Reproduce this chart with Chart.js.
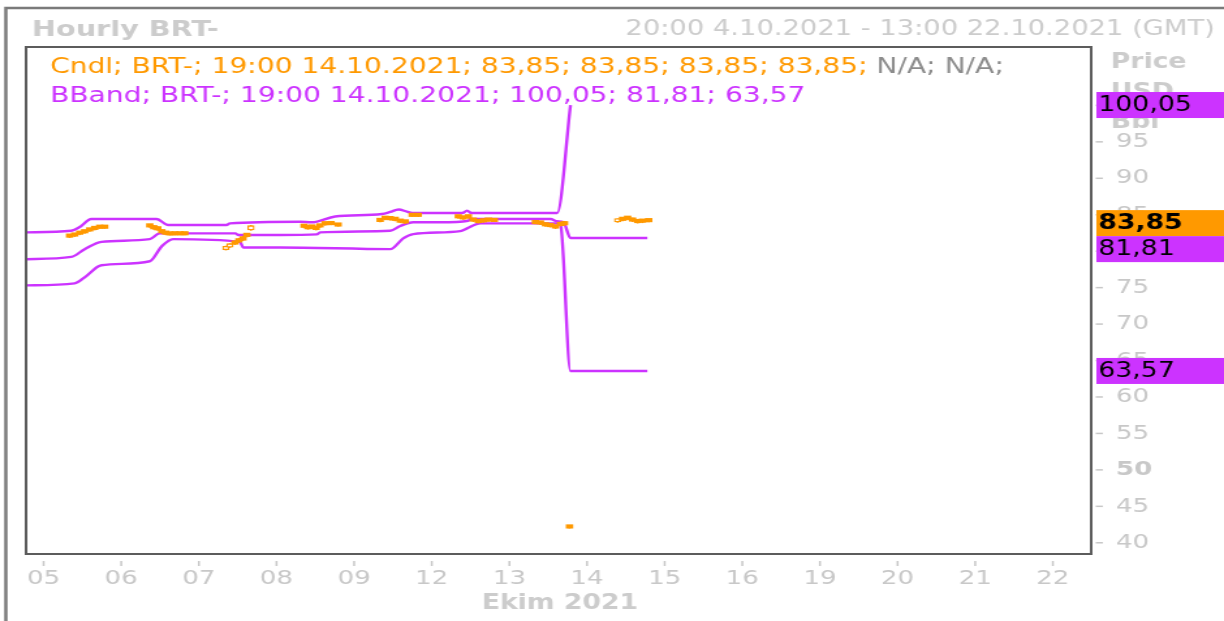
<!DOCTYPE html>
<html><head><meta charset="utf-8">
<script src="https://cdn.jsdelivr.net/npm/chart.js@4.4.1/dist/chart.umd.min.js"></script>
<style>
html,body{margin:0;padding:0;background:#fff;overflow:hidden;width:1224px;height:621px;}
#wrap{position:absolute;left:0;top:0;width:940px;height:621px;transform:scaleX(1.3021277);transform-origin:0 0;}
canvas{display:block;}
</style></head><body>
<div id="wrap"><canvas id="c" width="940" height="621"></canvas></div>
<script>
// ---------- data ----------
const dayLabels = ['05','06','07','08','09','12','13','14','15','16','19','20','21','22'];
const yTickValues = [40,45,50,55,60,65,70,75,80,85,90,95,100];

const upperX = [-0.226,0.357,0.465,0.615,1.454,1.604,2.357,2.4,3.303,3.454,3.755,4.357,4.465,4.572,4.68,4.748,5.394,5.455,5.51,6.615,6.787];
const upperY = [82.58,82.80,83.31,84.41,84.41,83.59,83.59,83.82,84.04,83.96,84.76,85.10,85.38,85.72,85.42,85.24,85.24,85.56,85.24,85.24,100.05];

const middleX = [-0.226,0.357,0.529,0.745,1.368,1.497,2.47,2.51,3.045,3.519,3.561,4.465,4.594,4.761,5.11,5.471,5.497,6.529,6.615,6.697,6.787,7.777];
const middleY = [78.90,79.21,80.28,81.28,81.66,82.44,82.44,82.21,82.21,82.30,82.58,82.80,83.45,83.96,83.96,84.18,84.41,84.41,84.10,83.96,81.81,81.81];

const lowerX = [-0.226,0.4,0.529,0.745,1.368,1.523,1.668,2.529,2.572,3.045,4.465,4.632,4.761,5.368,5.455,5.626,6.615,6.658,6.787,7.777];
const lowerY = [75.31,75.59,76.41,78.07,78.62,80.69,81.66,81.28,80.51,80.51,80.28,81.75,82.34,82.76,83.13,83.82,83.82,83.63,63.57,63.57];

const candleX = [0.335,0.400,0.465,0.529,0.594,0.658,0.723,0.787,
 1.368,1.419,1.471,1.523,1.574,1.626,1.690,1.755,1.819,
 2.348,2.400,2.465,2.516,2.568,2.619,2.671,
 3.355,3.406,3.458,3.510,3.561,3.626,3.703,3.794,
 4.335,4.400,4.465,4.529,4.594,4.658,4.748,4.826,
 5.342,5.406,5.471,5.535,5.600,5.665,5.729,5.806,
 6.335,6.400,6.465,6.529,6.594,6.658,6.710,6.774,
 7.394,7.458,7.523,7.587,7.652,7.716,7.794];
const candleOpen = [82.10,82.40,82.60,82.80,83.10,83.30,83.22,83.22,
 83.65,83.45,83.30,82.90,82.60,82.35,82.32,82.32,82.32,
 80.20,80.55,81.35,81.70,82.00,82.35,82.90,
 83.55,83.45,83.35,83.30,83.60,83.80,83.72,83.52,
 84.30,84.65,84.70,84.55,84.25,84.10,84.85,84.85,
 84.85,84.70,84.90,84.45,84.25,84.35,84.20,84.15,
 83.85,83.90,83.85,83.75,83.55,83.95,84.05,42.10,
 84.00,84.50,84.65,84.50,84.30,84.20,84.12];
const candleHigh = [82.15,82.45,82.65,82.85,83.15,83.35,83.22,83.22,
 83.70,83.50,83.35,82.95,82.65,82.35,82.32,82.32,82.32,
 80.70,81.05,81.40,81.75,82.05,82.40,83.55,
 83.60,83.50,83.40,83.35,83.65,83.85,83.72,83.52,
 84.35,84.70,84.75,84.60,84.30,84.15,84.85,84.85,
 84.90,84.75,84.95,84.50,84.30,84.40,84.20,84.15,
 83.85,83.95,83.90,83.80,83.60,84.00,84.10,42.10,
 84.45,84.55,84.70,84.55,84.35,84.25,84.12];
const candleLow = [81.85,82.00,82.25,82.45,82.70,82.90,83.12,83.12,
 83.25,83.00,82.85,82.45,82.25,82.20,82.22,82.22,82.22,
 80.15,80.50,80.90,81.20,81.45,81.95,82.85,
 83.20,83.00,83.10,82.90,83.25,83.55,83.62,83.42,
 84.00,84.30,84.25,84.15,83.90,83.80,84.75,84.75,
 84.50,84.35,84.50,84.05,83.85,83.95,84.10,84.05,
 83.75,83.65,83.40,83.30,83.10,83.45,83.55,42.00,
 83.95,84.15,84.30,84.05,83.85,83.90,84.02];
const candleClose = [81.90,82.05,82.30,82.50,82.75,82.95,83.12,83.12,
 83.30,83.05,82.90,82.50,82.30,82.20,82.22,82.22,82.22,
 80.65,81.00,80.95,81.25,81.50,82.00,83.50,
 83.25,83.05,83.15,82.95,83.30,83.60,83.62,83.42,
 84.05,84.35,84.30,84.20,83.95,83.85,84.75,84.75,
 84.55,84.40,84.55,84.10,83.90,84.00,84.10,84.05,
 83.75,83.70,83.45,83.35,83.15,83.50,83.60,42.00,
 84.40,84.20,84.35,84.10,83.90,83.95,84.02];

const crossTime = '19:00 14.10.2021';
const crossOHLC = [83.85,83.85,83.85,83.85];
const crossBand = [100.05,81.81,63.57];
const titleText = 'Hourly BRT-';
const rangeText = '20:00 4.10.2021 - 13:00 22.10.2021 (GMT)';
const axisTitleY = ['Price','USD','Bbl'];
const axisTitleX = 'Ekim 2021';

// ---------- styles ----------
const FONT = '"DejaVu Sans", Verdana, sans-serif';
const ORANGE = '#ff9900', PURPLE = '#cc33ff', GREY = '#c8c8c8';
const fmt = v => v.toFixed(2).replace('.', ',');
const pts = (xs, ys) => xs.map((x, i) => ({x, y: ys[i]}));

const overlay = {
  id: 'overlay',
  beforeDraw(chart) {
    const c = chart.ctx;
    c.save(); c.fillStyle = '#fff'; c.fillRect(0, 0, chart.width, chart.height); c.restore();
  },
  afterDraw(chart) {
    const c = chart.ctx, a = chart.chartArea, xs = chart.scales.x, ys = chart.scales.y;
    c.save();
    // outer frame
    c.strokeStyle = '#7a7a7a'; c.lineWidth = 2.5;
    c.beginPath(); c.moveTo(4.5, 640); c.lineTo(4.5, 8); c.lineTo(950, 8); c.stroke();
    // plot frame
    c.strokeStyle = '#5c5c5c'; c.lineWidth = 2;
    c.strokeRect(a.left, a.top, a.right - a.left, a.bottom - a.top);
    // title + range
    c.textBaseline = 'middle';
    c.fillStyle = '#cccccc';
    c.font = 'bold 22px ' + FONT; c.textAlign = 'left';
    c.fillText(titleText, 24.6, 30);
    c.font = '21px ' + FONT; c.textAlign = 'right';
    c.fillText(rangeText, 933, 30);
    // legend
    c.textAlign = 'left'; c.font = '21.6px ' + FONT;
    let t1 = 'Cndl; BRT-; ' + crossTime + '; ' + crossOHLC.map(fmt).join('; ') + '; ';
    c.fillStyle = ORANGE; c.fillText(t1, 38.4, 67);
    let w1 = c.measureText(t1).width;
    c.fillStyle = '#8c8c8c'; c.fillText('N/A; N/A;', 38.4 + w1, 67);
    c.fillStyle = PURPLE;
    c.fillText('BBand; BRT-; ' + crossTime + '; ' + crossBand.map(fmt).join('; '), 38.4, 96);
    // x tick marks
    c.strokeStyle = '#c8c8c8'; c.lineWidth = 1.5;
    dayLabels.forEach((d, i) => {
      const px = xs.getPixelForValue(i);
      c.beginPath(); c.moveTo(px, a.bottom + 7); c.lineTo(px, a.bottom + 12); c.stroke();
    });
    // y tick marks
    yTickValues.forEach(v => {
      const py = ys.getPixelForValue(v);
      c.beginPath(); c.moveTo(a.right + 3.5, py); c.lineTo(a.right + 9, py); c.stroke();
    });
    // axis titles
    c.fillStyle = '#cccccc'; c.font = 'bold 20.5px ' + FONT; c.textAlign = 'left';
    axisTitleY.forEach((s, i) => c.fillText(s, 853, 63 + i * 30));
    c.textAlign = 'center';
    c.fillText(axisTitleX, 430, 604);
    // value boxes
    const box = (val, color, bold, yc) => {
      c.fillStyle = color; c.fillRect(a.right + 4, yc - 13, 940 - a.right - 4, 26);
      c.fillStyle = '#000'; c.textAlign = 'left';
      c.font = (bold ? 'bold ' : '') + '20.5px ' + FONT;
      c.fillText(fmt(val), a.right + 5.5, yc + 1);
    };
    const yU = ys.getPixelForValue(crossBand[0]);
    const yC = ys.getPixelForValue(crossOHLC[3]);
    let yM = ys.getPixelForValue(crossBand[1]);
    if (yM - 13 < yC + 13) yM = yC + 26;
    const yL = ys.getPixelForValue(crossBand[2]);
    box(crossBand[0], PURPLE, false, yU);
    box(crossOHLC[3], ORANGE, true, yC);
    box(crossBand[1], PURPLE, false, yM);
    box(crossBand[2], PURPLE, false, yL);
    c.restore();
  }
};

const hollow = i => candleClose[i] > candleOpen[i];
const lineDs = (xs, ys) => ({
  type: 'line', data: pts(xs, ys), borderColor: PURPLE, borderWidth: 2.4,
  pointRadius: 0, cubicInterpolationMode: 'monotone', order: 3
});

new Chart(document.getElementById('c'), {
  data: {
    datasets: [
      lineDs(upperX, upperY),
      lineDs(middleX, middleY),
      lineDs(lowerX, lowerY),
      {
        type: 'bar', order: 2, grouped: false, barThickness: 1, minBarLength: 1,
        data: candleX.map((x, i) => ({x, y: [candleLow[i], candleHigh[i]]})),
        backgroundColor: ORANGE, borderWidth: 0
      },
      {
        type: 'bar', order: 1, grouped: false, barThickness: 5, minBarLength: 3.5,
        data: candleX.map((x, i) => ({x, y: [candleOpen[i], candleClose[i]]})),
        backgroundColor: ctx => hollow(ctx.dataIndex) ? '#ffffff' : ORANGE,
        borderColor: ORANGE,
        borderWidth: ctx => hollow(ctx.dataIndex) ? 1.3 : 0,
        borderSkipped: false
      }
    ]
  },
  options: {
    responsive: false, animation: false, devicePixelRatio: 1, events: [],
    layout: { padding: { left: 20, top: 47, right: 0, bottom: 0 } },
    plugins: { legend: { display: false }, tooltip: { enabled: false }, title: { display: false } },
    scales: {
      x: {
        type: 'linear', min: -0.226, max: 13.494, offset: false,
        afterBuildTicks: s => { s.ticks = dayLabels.map((_, i) => ({value: i})); },
        afterFit: s => { s.height = 67; },
        grid: { display: false, drawTicks: false, offset: false }, border: { display: false },
        ticks: { autoSkip: false, maxRotation: 0, padding: 13, color: GREY,
          font: { family: FONT, size: 20 }, callback: (v, i) => dayLabels[i] }
      },
      y: {
        type: 'linear', position: 'right', min: 38.46, max: 108.01,
        afterBuildTicks: s => { s.ticks = yTickValues.map(v => ({value: v})); },
        afterFit: s => { s.width = 102; },
        grid: { display: false, drawTicks: false }, border: { display: false },
        ticks: { padding: 19, color: GREY,
          font: ctx => ({ family: FONT, size: 20, weight: (ctx.tick && ctx.tick.value === 50) ? 'bold' : 'normal' }),
          callback: v => String(v) }
      }
    }
  },
  plugins: [overlay]
});
</script></body></html>
